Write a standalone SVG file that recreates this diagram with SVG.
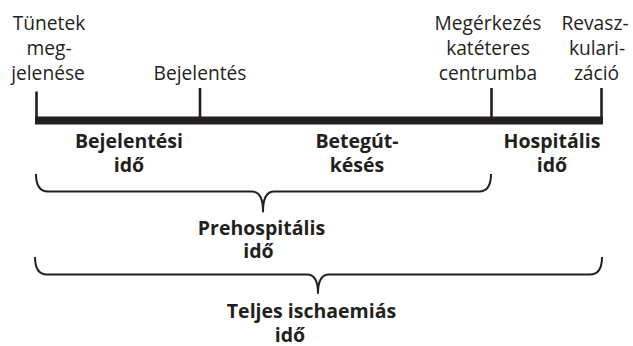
<svg xmlns="http://www.w3.org/2000/svg" width="633" height="346" viewBox="0 0 633 346">
<style>
.t{font-family:"Open Sans","Noto Sans",sans-serif;font-size:19.2px;fill:#231f20;text-anchor:middle}
.b{font-family:"Open Sans","Noto Sans",sans-serif;font-size:19.5px;font-weight:700;fill:#231f20;text-anchor:middle}
.tick{stroke:#231f20;stroke-width:2.6;fill:none}
.brace{stroke:#231f20;stroke-width:2;fill:none;stroke-linejoin:round}
</style>
<rect width="633" height="346" fill="#ffffff"/>
<g id="timeline">
<rect x="35" y="116.5" width="568" height="8" fill="#231f20"/>
</g>
<g id="connectors">
<line class="tick" x1="36.5" y1="91.5" x2="36.5" y2="118"/>
<line class="tick" x1="200" y1="88" x2="200" y2="118"/>
<line class="tick" x1="491.5" y1="88" x2="491.5" y2="118"/>
<line class="tick" x1="601.5" y1="88" x2="601.5" y2="118"/>
<path class="brace" d="M36,174 Q36,191.5 48,191.5 L252,191.5 Q263,191.5 263,211.5 Q263,191.5 274,191.5 L479,191.5 Q491,191.5 491,174"/>
<path class="brace" d="M35,257 Q35,274.5 47,274.5 L307,274.5 Q318,274.5 318,293 Q318,274.5 329,274.5 L590,274.5 Q602,274.5 602,257"/>
</g>
<g id="n-tunetek">
<text class="t" x="49" y="30">Tünetek</text>
<text class="t" x="49" y="55">meg-</text>
<text class="t" x="48" y="80">jelenése</text>
</g>
<g id="n-bejelentes">
<text class="t" x="200" y="79.5">Bejelentés</text>
</g>
<g id="n-megerkezes">
<text class="t" x="488" y="30">Megérkezés</text>
<text class="t" x="488" y="55">katéteres</text>
<text class="t" x="488" y="80">centrumba</text>
</g>
<g id="n-revasz">
<text class="t" x="595" y="30">Revasz-</text>
<text class="t" x="597" y="55">kulari-</text>
<text class="t" x="596.5" y="80">záció</text>
</g>
<g id="n-bejelentesi-ido">
<text class="b" x="129" y="148">Bejelentési</text>
<text class="b" x="129" y="171.5">idő</text>
</g>
<g id="n-betegutkeses">
<text class="b" x="357" y="148">Betegút-</text>
<text class="b" x="357" y="171.5">késés</text>
</g>
<g id="n-hospitalis-ido">
<text class="b" x="552" y="148">Hospitális</text>
<text class="b" x="552" y="171.5">idő</text>
</g>
<g id="n-prehospitalis-ido">
<text class="b" x="261.5" y="234.5">Prehospitális</text>
<text class="b" x="258.5" y="258">idő</text>
</g>
<g id="n-teljes-ido">
<text class="b" x="311.5" y="318">Teljes ischaemiás</text>
<text class="b" x="290" y="341.5">idő</text>
</g>
</svg>
